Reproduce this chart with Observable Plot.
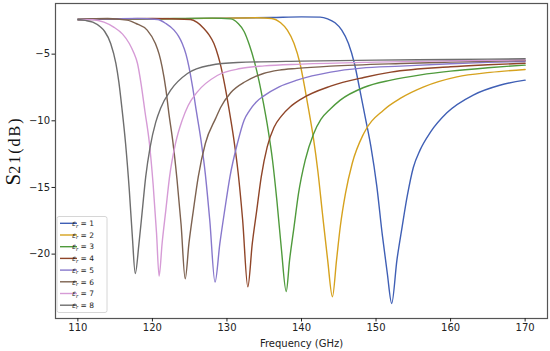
<!DOCTYPE html>
<html>
<head>
<meta charset="utf-8">
<script src="https://cdn.jsdelivr.net/npm/d3@7"></script>
<script src="https://cdn.jsdelivr.net/npm/@observablehq/plot@0.6"></script>
<style>
  html, body { margin: 0; padding: 0; background: white; }
  #chart { width: 550px; height: 351px; }
</style>
</head>
<body>
<div id="chart"></div>
<script>
// ---- data ----
const xTicks = [110, 120, 130, 140, 150, 160, 170];
const yTicks = [-5, -10, -15, -20];
const epsValues = ["1", "2", "3", "4", "5", "6", "7", "8"];
const colors = ["#3f5fb5", "#d6a21e", "#4f9a3c", "#8f4528", "#8878cc", "#7d6250", "#d69bd6", "#6e6e6e"];

const freq1 = [110, 120, 130, 136, 140, 142.5, 143.5, 144.5, 145.4, 146.3, 147.1, 147.8, 148.5, 149.3, 150.1, 150.85, 151.5, 152.1, 152.8, 153.5, 154.2, 155.0, 155.9, 157.3, 159.5, 163.1, 166.6, 170];
const s21_1 = [-2.4, -2.35, -2.3, -2.25, -2.2, -2.22, -2.35, -2.65, -3.2, -4.2, -5.7, -7.6, -9.6, -11.9, -14.9, -18.6, -21.4, -23.7, -20.45, -17.95, -15.6, -13.5, -12.2, -10.85, -9.4, -8.05, -7.33, -6.95];

const freq2 = [110, 120, 130, 134, 136, 137.2, 138.1, 139.0, 139.8, 140.4, 141.0, 141.6, 142.2, 142.8, 143.5, 144.15, 144.7, 145.2, 145.9, 146.8, 148.35, 151.0, 153.3, 156.4, 160.85, 165.3, 170];
const s21_2 = [-2.4, -2.35, -2.3, -2.27, -2.32, -2.65, -3.2, -4.2, -5.7, -7.4, -9.3, -11.3, -13.8, -16.9, -20.4, -23.2, -20.45, -17.95, -15.45, -13.2, -10.95, -9.2, -8.3, -7.45, -6.7, -6.37, -6.15];

const freq3 = [110, 120, 128, 130.5, 131.5, 132.3, 133.0, 133.7, 134.3, 134.9, 135.5, 136.1, 136.7, 137.3, 137.95, 138.4, 139.0, 139.6, 140.5, 141.6, 142.6, 143.9, 145.2, 148.35, 152, 156, 160, 165, 170];
const s21_3 = [-2.4, -2.35, -2.3, -2.35, -2.7, -3.3, -4.3, -5.6, -7.0, -8.7, -10.6, -12.9, -16.0, -19.6, -22.8, -20.45, -17.95, -15.45, -12.95, -11.0, -9.9, -9.1, -8.45, -7.5, -6.95, -6.55, -6.27, -6.02, -5.82];

const freq4 = [110, 120, 125.1, 126.0, 126.9, 127.6, 128.25, 128.8, 129.2, 129.7, 130.3, 130.9, 131.5, 132.1, 132.8, 133.4, 134.0, 134.6, 135.4, 136.3, 137.3, 138.5, 140, 143.9, 148.35, 152, 160, 165, 170];
const s21_4 = [-2.4, -2.33, -2.4, -2.62, -3.07, -3.55, -4.2, -5.1, -5.95, -7.3, -9.2, -11.3, -13.9, -17.4, -22.45, -19.2, -16.7, -14.2, -11.95, -10.5, -9.65, -8.95, -8.35, -7.4, -6.75, -6.35, -5.95, -5.8, -5.68];

const freq5 = [110, 118, 120.7, 121.8, 122.9, 123.5, 124.0, 124.5, 124.9, 125.4, 125.9, 126.5, 127.1, 127.7, 128.4, 129.05, 129.7, 130.4, 131.4, 132.3, 133.0, 133.9, 134.9, 137, 139.4, 143.9, 148, 153.3, 160, 165, 170];
const s21_5 = [-2.4, -2.33, -2.4, -2.7, -3.2, -3.65, -4.2, -5.0, -5.95, -7.5, -9.3, -11.4, -14.0, -17.5, -22.1, -19.2, -16.7, -14.2, -11.7, -9.95, -9.25, -8.6, -8.15, -7.45, -6.95, -6.35, -6.05, -5.9, -5.72, -5.62, -5.55];

const freq6 = [110, 114, 116.6, 117.8, 119.3, 120.4, 120.9, 121.3, 121.8, 122.2, 122.75, 123.3, 123.85, 124.4, 124.9, 125.5, 126.15, 127.1, 128.5, 129.15, 130.5, 132.5, 134.9, 137, 139.4, 143.9, 153.3, 160, 170];
const s21_6 = [-2.4, -2.33, -2.45, -2.7, -3.2, -4.2, -5.0, -5.95, -7.6, -9.4, -11.6, -14.4, -17.8, -21.85, -19.2, -16.7, -14.2, -11.7, -9.8, -9.0, -7.9, -7.05, -6.45, -6.2, -6.07, -5.9, -5.7, -5.6, -5.48];

const freq7 = [110, 112, 113.5, 114.8, 116.0, 116.9, 117.5, 118.0, 118.5, 119.0, 119.6, 120.1, 120.55, 120.9, 121.3, 121.8, 122.3, 123.1, 124.0, 124.8, 126.0, 128.7, 131.8, 135, 140, 150, 160, 170];
const s21_7 = [-2.4, -2.42, -2.6, -2.97, -3.5, -4.2, -4.9, -5.7, -7.3, -9.3, -11.7, -14.8, -18.4, -21.65, -19.2, -16.7, -14.2, -11.7, -9.95, -8.85, -7.85, -6.6, -6.08, -5.88, -5.75, -5.6, -5.5, -5.42];

const freq8 = [110, 111, 112, 113, 113.6, 114.4, 115.1, 115.5, 115.9, 116.4, 116.9, 117.3, 117.7, 118.2, 118.65, 119.1, 119.7, 120.45, 121.1, 122.45, 124.7, 127.8, 131.4, 140, 150, 160, 170];
const s21_8 = [-2.4, -2.47, -2.6, -2.95, -3.3, -4.2, -5.7, -7.1, -9.0, -11.7, -15.2, -18.6, -21.45, -19.2, -16.7, -14.2, -11.95, -10.1, -9.05, -7.7, -6.45, -5.83, -5.63, -5.52, -5.45, -5.4, -5.35];

const freqs = [freq1, freq2, freq3, freq4, freq5, freq6, freq7, freq8];
const s21s = [s21_1, s21_2, s21_3, s21_4, s21_5, s21_6, s21_7, s21_8];

// ---- build table ----
const series = freqs.map((fs, i) => fs.map((f, j) => ({f, s: s21s[i][j], k: i})));

const lineMarks = series.map((d, i) =>
  Plot.line(d, {x: "f", y: "s", stroke: colors[i], strokeWidth: 1.4, curve: "monotone-x"})
);

const chart = Plot.plot({
  width: 550,
  height: 351,
  marginLeft: 55,
  marginRight: 3,
  marginTop: 3,
  marginBottom: 33,
  style: {fontFamily: "'DejaVu Sans', sans-serif", fontSize: "10px", color: "#222", background: "white"},
  x: {domain: [107, 173]},
  y: {domain: [-24.83, -1.2]},
  marks: [
    ...lineMarks,
    Plot.frame({stroke: "#555", strokeWidth: 1.2}),
    Plot.axisX(xTicks, {tickSize: 3.5, tickPadding: 2, label: null, fontSize: 10}),
    Plot.axisY(yTicks, {tickSize: 3.5, tickPadding: 2, label: null, fontSize: 10}),
    Plot.text(["Frequency (GHz)"], {frameAnchor: "bottom", dy: 28, lineAnchor: "bottom", fontSize: 10})
  ]
});

document.getElementById("chart").appendChild(chart);

const svg = d3.select(chart);

// y-axis label
const yl = svg.append("text")
  .attr("transform", "translate(19.5,151) rotate(-90)")
  .attr("text-anchor", "middle")
  .attr("fill", "#111")
  .style("font-family", "'Liberation Serif', 'DejaVu Serif', serif");
yl.append("tspan").attr("font-size", 21).text("S");
yl.append("tspan").attr("font-size", 16).attr("letter-spacing", 2).text("21(dB)");

// legend
const lg = svg.append("g").attr("class", "legend");
const lx = 57, ly = 216.5, rowH = 11.7;
lg.append("rect")
  .attr("x", lx).attr("y", ly).attr("width", 50).attr("height", 96)
  .attr("rx", 2).attr("fill", "white").attr("fill-opacity", 0.85)
  .attr("stroke", "#ccc").attr("stroke-width", 0.8);
epsValues.forEach((v, i) => {
  const yy = 223.3 + i * rowH;
  lg.append("line")
    .attr("x1", 60).attr("x2", 77).attr("y1", yy).attr("y2", yy)
    .attr("stroke", colors[i]).attr("stroke-width", 1.4);
  const t = lg.append("text")
    .attr("x", 83).attr("y", yy + 2.7)
    .attr("font-size", 7.5).attr("fill", "#222")
    .style("font-family", "'DejaVu Sans', sans-serif");
  t.append("tspan").attr("font-style", "italic").text("ε");
  t.append("tspan").attr("font-style", "italic").attr("font-size", 5.3).attr("dy", 1.5).text("r");
  t.append("tspan").attr("dy", -1.5).text(" = " + v);
});
</script>
</body>
</html>
